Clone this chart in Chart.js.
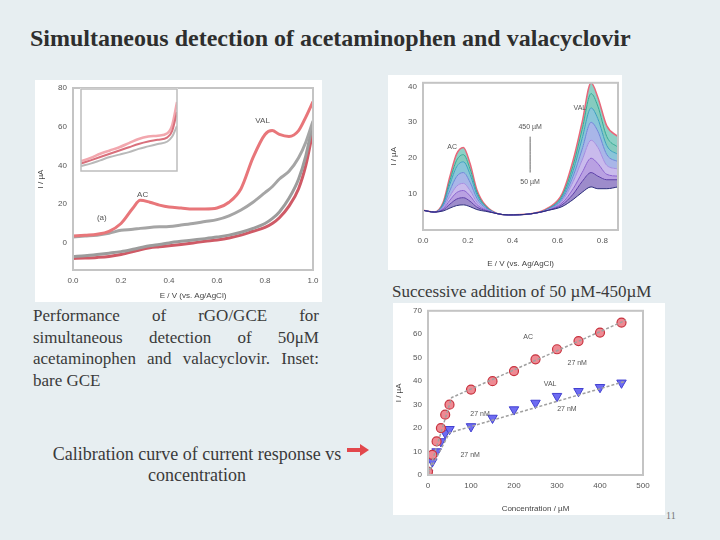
<!DOCTYPE html>
<html>
<head>
<meta charset="utf-8">
<script src="https://cdn.jsdelivr.net/npm/chart.js@4.4.0/dist/chart.umd.min.js"></script>
<style>
body{margin:0;width:720px;height:540px;background:#e7eef1;position:relative;overflow:hidden;font-family:"Liberation Serif","Times New Roman",serif;color:#333;}
.abs{position:absolute;}
.panel{position:absolute;background:#fff;}
#title{left:30px;top:25px;font-size:24px;font-weight:bold;color:#2e2e2e;white-space:nowrap;}
#para{left:33px;top:305px;width:286px;font-size:17px;line-height:21.5px;text-align:justify;color:#3a3a3a;}
#calib{left:37px;top:444px;width:320px;font-size:18px;line-height:21px;text-align:center;color:#3a3a3a;}
#succ{left:392px;top:282px;font-size:17px;color:#3a3a3a;white-space:nowrap;}
#page{left:666px;top:510px;font-size:10px;color:#777;}
#arrow{left:347px;top:448px;width:14px;height:4px;background:#e2474c;}
#arrowHead{left:360px;top:444px;width:0;height:0;border-top:6px solid transparent;border-bottom:6px solid transparent;border-left:9px solid #e2474c;}
</style>
</head>
<body>
<div id="title" class="abs">Simultaneous detection of acetaminophen and valacyclovir</div>

<div class="panel" style="left:35px;top:80px;width:287px;height:222px;"><canvas id="cv" width="287" height="222"></canvas></div>
<div class="panel" style="left:80px;top:88px;width:98px;height:84px;"><canvas id="inset" width="98" height="84"></canvas></div>
<div class="panel" style="left:388px;top:75px;width:234px;height:195px;"><canvas id="dpv" width="234" height="195"></canvas></div>
<div class="panel" style="left:393px;top:303px;width:272px;height:212px;"><canvas id="cal" width="272" height="212"></canvas></div>

<div id="para" class="abs">Performance of rGO/GCE for simultaneous detection of 50μM acetaminophen and valacyclovir. Inset: bare GCE</div>
<div id="calib" class="abs">Calibration curve of current response vs concentration</div>
<div id="arrow" class="abs"></div><div id="arrowHead" class="abs"></div>
<div id="succ" class="abs">Successive addition of 50 µM-450µM</div>
<div id="page" class="abs">11</div>

<script>
// cyclic voltammograms (E / V vs Ag/AgCl, I / uA)
var cvPotential = [0, 0.05, 0.1, 0.15, 0.2, 0.25, 0.28, 0.32, 0.36, 0.4, 0.45, 0.5, 0.55, 0.6, 0.65, 0.7, 0.75, 0.8, 0.83, 0.86, 0.9, 0.94, 0.97, 1.0];
var cvModFwd  = [3.5, 4, 4.5, 6, 10, 18, 22, 21, 19.5, 18.5, 18, 17.5, 17.5, 18, 21, 28, 44, 56, 58, 56, 55, 58, 65, 73];
var cvBareFwd = [3, 3.5, 4, 5, 6.5, 7, 7.5, 8, 8.3, 8.5, 9.2, 10, 11, 12, 14, 17, 21, 26, 29, 33, 37, 44, 52, 63];
var cvModRev  = [-8, -7.8, -7.5, -7, -6, -4.5, -3.5, -2.5, -2, -1.5, -0.8, 0, 0.8, 1.5, 2.5, 4, 6, 8, 10, 13, 19, 28, 40, 58];
var cvBareRev = [-7, -6.6, -6, -5.3, -4.5, -3.3, -2.5, -1.5, -0.8, 0, 0.8, 1.5, 2.2, 3, 4, 5.5, 7.5, 10, 12.5, 16, 23, 33, 45, 62];
var cvNotes = [{x: 0.79, y: 63, text: 'VAL'}, {x: 0.29, y: 25, text: 'AC'}, {x: 0.12, y: 13, text: '(a)'}];

// inset: bare GCE
var insetPotential = [0, 0.1, 0.2, 0.3, 0.4, 0.5, 0.6, 0.7, 0.8, 0.9, 0.95, 1.0];
var insetA = [1.2, 1.6, 2.1, 2.5, 2.9, 3.4, 3.9, 4.2, 4.3, 4.6, 5.6, 8.4];
var insetB = [0.9, 1.3, 1.7, 2.1, 2.5, 2.9, 3.3, 3.6, 3.8, 4.1, 4.9, 7.2];
var insetC = [0.6, 0.9, 1.3, 1.7, 2.0, 2.3, 2.7, 3.0, 3.3, 3.6, 4.2, 5.5];

// DPV, one curve per addition
var dpvPotential = [0.0, 0.05, 0.09, 0.12, 0.15, 0.18, 0.21, 0.24, 0.28, 0.38, 0.48, 0.56, 0.62, 0.67, 0.71, 0.75, 0.78, 0.82, 0.87];
var dpvCurves = [
  [5.5, 5, 5.3, 6.1, 6.8, 7, 6.5, 5.7, 5.2, 4.2, 4.5, 5.5, 6.5, 8.5, 10.5, 12, 11.5, 11.5, 12],
  [5.5, 5, 5.6, 7.2, 8.6, 9, 8, 6.4, 5.4, 4.2, 4.5, 5.5, 7, 10, 13.5, 16, 15, 14, 14],
  [5.5, 5, 5.9, 8.3, 10.4, 11, 9.5, 7.1, 5.6, 4.2, 4.5, 5.6, 7.5, 11.5, 16, 20, 18.5, 15.5, 15],
  [5.5, 5, 6.2, 9.4, 12.2, 13, 11, 7.8, 5.8, 4.2, 4.5, 5.7, 8, 13.5, 19.5, 25, 23, 18, 17],
  [5.5, 5, 6.7, 11, 14.9, 16, 13.3, 8.9, 6.1, 4.2, 4.5, 5.8, 8.5, 15, 22.5, 30, 27.5, 21, 19],
  [5.5, 5, 7.1, 12.7, 17.6, 19, 15.5, 9.9, 6.4, 4.2, 4.5, 5.9, 9, 16.5, 25.5, 34, 31, 23.5, 21],
  [5.5, 5, 7.4, 13.8, 19.4, 21, 17, 10.6, 6.6, 4.2, 4.5, 6, 9.5, 18, 28, 38, 34.5, 26, 23],
  [5.5, 5, 7.7, 14.9, 21.2, 23, 18.5, 11.3, 6.8, 4.2, 4.5, 6.2, 10, 19.5, 30, 41, 37, 29, 26]
];
var dpvLine = ['#2b2d7a', '#5b3fa8', '#8a63cf', '#a58de0', '#6f86d8', '#3d9fc0', '#35a994', '#e8677a'];
var dpvFill = ['#2b2d7a', '#5b3fa8', '#8a63cf', '#a58de0', '#6f86d8', '#3d9fc0', '#35a994', '#3fb3a0'];
var dpvArrow = [{x: 0.478, y: 16}, {x: 0.478, y: 26}];
var dpvNotes = [{x: 0.13, y: 23, text: 'AC'}, {x: 0.70, y: 34, text: 'VAL'}, {x: 0.478, y: 28.7, text: '450 µM'}, {x: 0.478, y: 13.4, text: '50 µM'}];

// calibration
var calConc = [0, 10, 20, 30, 40, 50, 100, 150, 200, 250, 300, 350, 400, 450];
var calAC  = [1.4, 8.6, 14.3, 20, 25.7, 30, 36.4, 40, 44.3, 49.3, 53.6, 57.1, 60.7, 65];
var calVAL = [0.7, 5.7, 10, 14.3, 17.9, 19.5, 20.7, 24.3, 27.9, 30.7, 33.6, 35.7, 37.4, 39.3];
var fitAC  = [{x: 0, y: 0}, {x: 55, y: 33}, {x: 460, y: 66}];
var fitVAL = [{x: 0, y: 0.5}, {x: 50, y: 18}, {x: 460, y: 40}];
var calNotes = [{x: 233, y: 59, text: 'AC'}, {x: 284, y: 38.6, text: 'VAL'}, {x: 347, y: 47.7, text: '27 nM'},
  {x: 323, y: 27.9, text: '27 nM'}, {x: 98, y: 8.6, text: '27 nM'}, {x: 121, y: 26, text: '27 nM'}];

function pts(xs, ys) { return xs.map(function (x, i) { return {x: x, y: ys[i]}; }); }

Chart.defaults.font.family = '"Liberation Sans", Arial, sans-serif';
Chart.defaults.animation = false;
Chart.defaults.responsive = false;

var framePlugin = {
  id: 'frame',
  afterDraw: function (chart, args, opts) {
    var a = chart.chartArea, ctx = chart.ctx;
    ctx.save();
    ctx.strokeStyle = opts.color || '#c4c4c4';
    ctx.lineWidth = opts.width || 2;
    ctx.strokeRect(a.left, a.top, a.right - a.left, a.bottom - a.top);
    ctx.restore();
  }
};
var notesPlugin = {
  id: 'notes',
  afterDatasetsDraw: function (chart, args, opts) {
    var xs = chart.scales.x, ys = chart.scales.y, ctx = chart.ctx;
    (opts.items || []).forEach(function (n) {
      ctx.save();
      ctx.font = opts.font || '8px "Liberation Sans"';
      ctx.fillStyle = opts.color || '#555';
      ctx.textAlign = 'center';
      ctx.textBaseline = 'middle';
      ctx.fillText(n.text, xs.getPixelForValue(n.x), ys.getPixelForValue(n.y));
      ctx.restore();
    });
  }
};

function axis(o) {
  return {
    type: 'linear', min: o.min, max: o.max,
    ticks: {stepSize: o.step, includeBounds: false, color: '#555', font: {size: 8}, callback: o.cb},
    grid: {display: false, drawTicks: true, tickLength: 3},
    border: {color: '#c4c4c4', width: 2},
    title: {display: !!o.title, text: o.title, color: '#444', font: {size: 8}, padding: 1},
    afterFit: function (s) { if (o.w) s.width = o.w; if (o.h) s.height = o.h; }
  };
}
function decimals(v) { return v.toFixed(1); }
function line(data, color, width) {
  return {data: data, borderColor: color, borderWidth: width, pointRadius: 0, tension: 0.4, cubicInterpolationMode: 'monotone', fill: false};
}

new Chart(document.getElementById('cv'), {
  type: 'line',
  data: {datasets: [
    line(pts(cvPotential, cvModFwd), '#e8767a', 3),
    line(pts(cvPotential, cvBareFwd), '#a5a5a5', 3),
    line(pts(cvPotential, cvBareRev), '#9c9c9c', 3),
    line(pts(cvPotential, cvModRev), '#cf5a66', 3)
  ]},
  options: {
    layout: {padding: {top: 8, right: 9, left: 0, bottom: 0}},
    plugins: {legend: {display: false}, tooltip: {enabled: false}, notes: {items: cvNotes}},
    scales: {
      x: axis({min: 0, max: 1, step: 0.2, cb: decimals, title: 'E / V (vs. Ag/AgCl)', h: 32}),
      y: axis({min: -14, max: 80, step: 20, title: 'I / µA', w: 38})
    }
  },
  plugins: [framePlugin, notesPlugin]
});

new Chart(document.getElementById('inset'), {
  type: 'line',
  data: {datasets: [
    line(pts(insetPotential, insetC), '#b9b9b9', 2),
    line(pts(insetPotential, insetB), '#d9707c', 2),
    line(pts(insetPotential, insetA), '#f2a7ae', 2.5)
  ]},
  options: {
    layout: {padding: 1},
    plugins: {legend: {display: false}, tooltip: {enabled: false}, frame: {color: '#bdbdbd', width: 1.5}},
    scales: {x: {type: 'linear', min: 0, max: 1, display: false}, y: {min: 0, max: 10, display: false}}
  },
  plugins: [framePlugin]
});

var dpvSets = dpvCurves.map(function (c, i) {
  var d = line(pts(dpvPotential, c), dpvLine[i], i === dpvCurves.length - 1 ? 1.5 : 1);
  d.fill = i === 0 ? false : '-1';
  d.backgroundColor = dpvFill[i] + '99';
  return d;
});
var arrowSet = line(dpvArrow, '#666', 1);
arrowSet.tension = 0;
dpvSets.push(arrowSet);

new Chart(document.getElementById('dpv'), {
  type: 'line',
  data: {datasets: dpvSets},
  options: {
    layout: {padding: {top: 5, right: 4, left: 0, bottom: 0}},
    plugins: {legend: {display: false}, tooltip: {enabled: false}, notes: {items: dpvNotes, font: '7px "Liberation Sans"'}},
    scales: {
      x: axis({min: 0, max: 0.87, step: 0.2, cb: decimals, title: 'E / V (vs. Ag/AgCl)', h: 40}),
      y: axis({min: 0, max: 41, step: 10, cb: function (v) { return v > 0 ? v : ''; }, title: 'I / µA', w: 35})
    }
  },
  plugins: [framePlugin, notesPlugin]
});

new Chart(document.getElementById('cal'), {
  type: 'scatter',
  data: {datasets: [
    {type: 'line', data: fitAC, borderColor: '#a0a0a0', borderWidth: 1.5, borderDash: [3, 2], pointRadius: 0, tension: 0},
    {type: 'line', data: fitVAL, borderColor: '#a0a0a0', borderWidth: 1.5, borderDash: [3, 2], pointRadius: 0, tension: 0},
    {data: pts(calConc, calAC), pointStyle: 'circle', pointRadius: 4.5, backgroundColor: '#ee8a93', borderColor: '#c8333f', borderWidth: 1.2},
    {data: pts(calConc, calVAL), pointStyle: 'triangle', rotation: 180, pointRadius: 5.5, backgroundColor: '#6e6cf2', borderColor: '#4240d0', borderWidth: 1}
  ]},
  options: {
    layout: {padding: {top: 7, right: 22, left: 0, bottom: 0}},
    plugins: {legend: {display: false}, tooltip: {enabled: false}, notes: {items: calNotes, font: '7px "Liberation Sans"'}},
    scales: {
      x: axis({min: 0, max: 500, step: 100, title: 'Concentration / µM', h: 40}),
      y: axis({min: 0, max: 70, step: 10, title: 'I / µA', w: 35})
    }
  },
  plugins: [framePlugin, notesPlugin]
});
</script>
</body>
</html>
